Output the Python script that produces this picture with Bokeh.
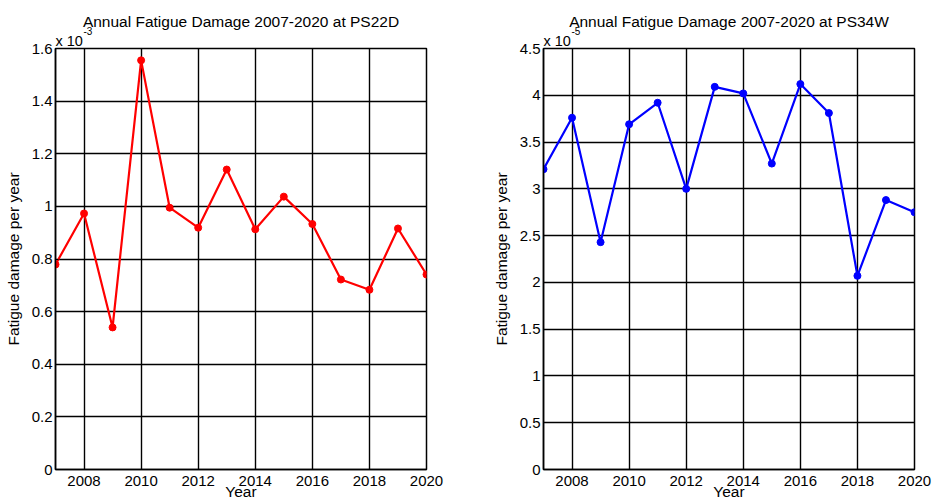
from bokeh.plotting import figure
from bokeh.layouts import row
from bokeh.models import Title, FixedTicker, CustomJSTickFormatter, Range1d, ColumnDataSource
from bokeh.embed import file_html
from bokeh.resources import INLINE

# Annual fatigue damage per year at the two locations
years = list(range(2007, 2021))
damage_ps22d = [0.000779, 0.000973, 0.000540, 0.001555, 0.000995, 0.000919, 0.001140,
                0.000913, 0.001037, 0.000933, 0.000722, 0.000683, 0.000916, 0.000741]
damage_ps34w = [3.21e-5, 3.76e-5, 2.43e-5, 3.69e-5, 3.92e-5, 3.00e-5, 4.09e-5,
                4.02e-5, 3.27e-5, 4.12e-5, 3.81e-5, 2.07e-5, 2.88e-5, 2.75e-5]

x_ticks = [2008, 2010, 2012, 2014, 2016, 2018, 2020]
y_ticks_ps22d = [0.0, 0.0002, 0.0004, 0.0006, 0.0008, 0.0010, 0.0012, 0.0014, 0.0016]
y_ticks_ps34w = [0.0, 0.5e-5, 1.0e-5, 1.5e-5, 2.0e-5, 2.5e-5, 3.0e-5, 3.5e-5, 4.0e-5, 4.5e-5]

FONT = "Liberation Sans"


def make_panel(title, values, color, y_ticks, exponent, border_left, border_right):
    scale = 10 ** exponent
    p = figure(width=466, height=503, output_backend="svg", toolbar_location=None,
               title=None,
               x_range=Range1d(years[0], years[-1]),
               y_range=Range1d(y_ticks[0], y_ticks[-1]),
               min_border_left=border_left, min_border_right=border_right,
               min_border_top=48, min_border_bottom=34)
    p.background_fill_color = "white"
    p.border_fill_color = "white"
    p.outline_line_color = "black"
    p.outline_line_width = 1.5
    p.outline_line_alpha = 1.0

    for g in (p.xgrid, p.ygrid):
        g.grid_line_color = "black"
        g.grid_line_width = 1.4
        g.grid_line_alpha = 1.0

    p.xaxis.ticker = FixedTicker(ticks=x_ticks)
    p.yaxis.ticker = FixedTicker(ticks=y_ticks)
    p.yaxis.formatter = CustomJSTickFormatter(
        args=dict(s=scale), code="return String(+(tick / s).toFixed(6));")

    for ax in (p.xaxis, p.yaxis):
        ax.axis_line_color = "black"
        ax.axis_line_width = 1.5
        ax.major_tick_out = 0
        ax.major_tick_in = 3
        ax.major_tick_line_color = "black"
        ax.minor_tick_line_color = None
        ax.major_label_text_font = FONT
        ax.major_label_text_font_size = "15px"
        ax.major_label_text_color = "black"
        ax.axis_label_text_font = FONT
        ax.axis_label_text_font_size = "15.5px"
        ax.axis_label_text_font_style = "normal"
        ax.axis_label_text_color = "black"

    p.xaxis.axis_label = "Year"
    p.xaxis.major_label_standoff = 6
    p.xaxis.axis_label_standoff = -6
    p.yaxis.axis_label = "Fatigue damage per year"
    p.yaxis.major_label_standoff = 3
    p.yaxis.axis_label_standoff = 7

    src = ColumnDataSource(dict(year=years, value=values))
    p.line("year", "value", source=src, line_color=color, line_width=2.2)
    p.scatter("year", "value", source=src, marker="circle", size=7,
              fill_color=color, line_color=color)

    # multiplier ("x 10" with a raised exponent) stacked above the frame, then the main title
    p.add_layout(Title(text="x 10", align="left", offset=0, standoff=0,
                       text_font=FONT, text_font_size="14.5px",
                       text_font_style="normal", text_color="black"), "above")
    p.add_layout(Title(text=str(exponent), align="left", offset=28, standoff=-9,
                       text_font=FONT, text_font_size="10px",
                       text_font_style="normal", text_color="black"), "above")
    p.add_layout(Title(text=title, align="center", standoff=0,
                       text_font=FONT, text_font_size="15.5px",
                       text_font_style="normal", text_color="black"), "above")
    return p


left = make_panel("Annual Fatigue Damage 2007-2020 at PS22D", damage_ps22d, "#ff0000",
                  y_ticks_ps22d, -3, 55, 40)
right = make_panel("Annual Fatigue Damage 2007-2020 at PS34W", damage_ps34w, "#0000ff",
                   y_ticks_ps34w, -5, 77, 18)

layout = row(left, right, spacing=0)
open("out.html", "w").write(file_html(layout, INLINE))
